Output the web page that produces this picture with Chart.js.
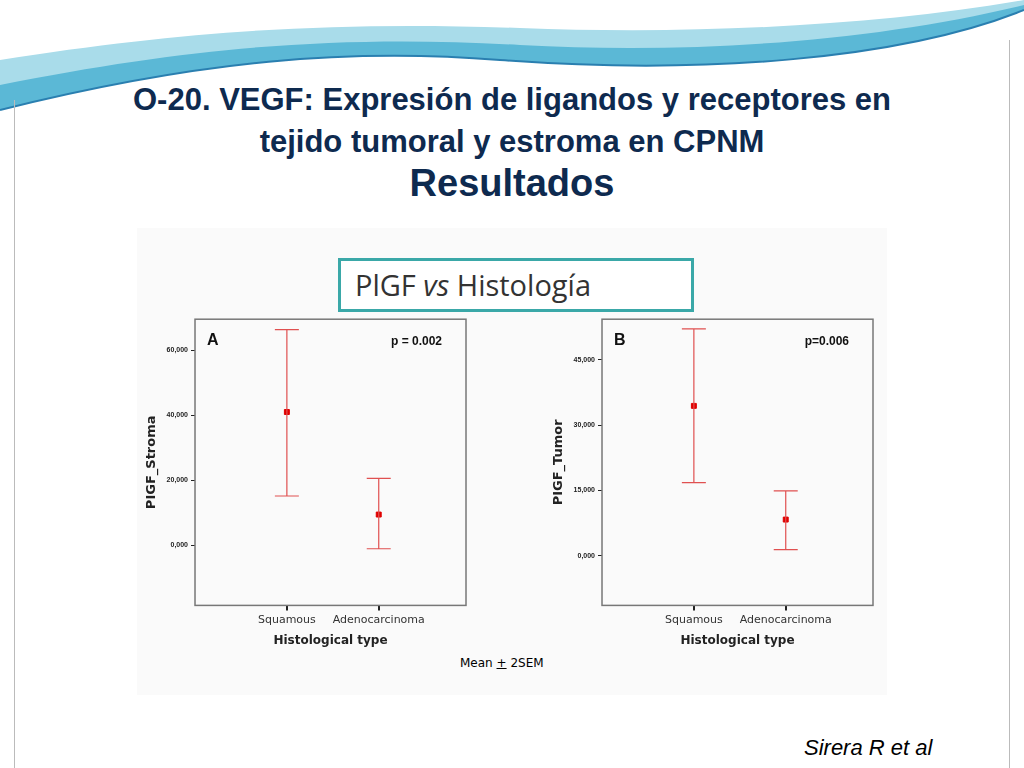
<!DOCTYPE html>
<html><head><meta charset="utf-8">
<script src="https://cdn.jsdelivr.net/npm/chart.js@4.4.0/dist/chart.umd.min.js"></script>
<style>
body{margin:0;width:1024px;height:768px;background:#fff;position:relative;overflow:hidden;font-family:"Liberation Sans",Arial,sans-serif}
#wave{position:absolute;left:0;top:0}
.t{position:absolute;left:0;width:1024px;text-align:center;color:#0e2a4f;font-weight:bold;white-space:nowrap}
#inner{position:absolute;left:137px;top:228px;width:750px;height:467px;background:#fafafa}
#box{position:absolute;left:338px;top:258px;width:336px;height:48px;border:3px solid #3aa8a8;background:#fff;font-family:"Open Sans",sans-serif;font-size:29px;color:#333;line-height:48px;padding-left:14px;box-sizing:content-box}
.c{position:absolute}
#mean{position:absolute;left:460px;top:656px;font-size:12px;font-family:"DejaVu Sans",sans-serif}
#auth{position:absolute;left:804px;top:735px;font-size:22px;font-style:italic}
</style></head><body>
<svg id="wave" width="1024" height="120">
<path d="M0,0 H1024 V10 C900,60 700,75 500,60 C350,48 200,60 0,110 Z" fill="#5bb8d6"/>
<path d="M0,0 H1024 V5 C880,40 700,55 520,45 C350,35 200,45 0,85 Z" fill="#a9dcea"/>
<path d="M0,0 H1024 V0 C880,25 700,35 520,28 C350,22 200,28 0,60 Z" fill="#ffffff"/>
<path d="M0,110 C200,60 350,48 500,60 C700,75 900,60 1024,10" fill="none" stroke="#2a7fb0" stroke-width="2"/>
</svg>
<div style="position:absolute;left:14px;top:100px;width:1px;height:668px;background:#bbb"></div>
<div style="position:absolute;left:1009px;top:40px;width:1px;height:728px;background:#bbb"></div>
<div class="t" style="top:82px;font-size:31px">O-20. VEGF: Expresión de ligandos y receptores en</div>
<div class="t" style="top:124px;font-size:31px">tejido tumoral y estroma en CPNM</div>
<div class="t" style="top:162px;font-size:38px">Resultados</div>
<div id="inner"></div>
<div id="box">PlGF <i>vs</i> Histología</div>
<div class="c" style="left:140px;top:312px;width:340px;height:340px"><canvas id="ca"></canvas></div>
<div class="c" style="left:547px;top:312px;width:340px;height:340px"><canvas id="cb"></canvas></div>
<div id="mean">Mean <u>+</u> 2SEM</div>
<div id="auth">Sirera R et al</div>
<script>
const categories = ['Squamous', 'Adenocarcinoma'];
const stromaMean = [41000, 9500];
const stromaLow = [15200, -1000];
const stromaHigh = [66300, 20600];
const stromaTicks = [0, 20000, 40000, 60000];
const tumorMean = [34400, 8300];
const tumorLow = [16800, 1400];
const tumorHigh = [52100, 14900];
const tumorTicks = [0, 15000, 30000, 45000];

const errPlugin = {
  id: 'err',
  afterDatasetsDraw(chart, args, o) {
    const c = chart.ctx, x = chart.scales.x, y = chart.scales.y;
    c.save(); c.strokeStyle = '#e05050'; c.lineWidth = 1.2;
    o.low.forEach((lo, i) => {
      const px = x.getPixelForValue(i + 1), y1 = y.getPixelForValue(lo), y2 = y.getPixelForValue(o.high[i]);
      c.beginPath(); c.moveTo(px, y1); c.lineTo(px, y2);
      c.moveTo(px - 12, y1); c.lineTo(px + 12, y1);
      c.moveTo(px - 12, y2); c.lineTo(px + 12, y2); c.stroke();
    });
    const a = chart.chartArea;
    c.strokeStyle = '#777'; c.lineWidth = 1.5; c.strokeRect(a.left, a.top, a.right - a.left, a.bottom - a.top);
    c.fillStyle = '#111'; c.font = 'bold 16px "Liberation Sans"'; c.fillText(o.letter, a.left + 12, a.top + 26);
    c.font = 'bold 12px "Liberation Sans"'; c.textAlign = 'right'; c.fillText(o.p, a.right - 24, a.top + 26);
    c.restore();
  }
};

function make(id, mean, low, high, ticks, ymin, ymax, title, letter, p) {
  new Chart(document.getElementById(id), {
    type: 'scatter',
    data: { datasets: [{ data: mean.map((v, i) => ({ x: i + 1, y: v })), pointStyle: 'rect', pointRadius: 3.5, backgroundColor: '#e00000', borderColor: '#e00000' }] },
    options: {
      responsive: true, maintainAspectRatio: false, animation: false,
      layout: { padding: { top: 6, right: 14 } },
      plugins: { legend: { display: false }, tooltip: { enabled: false }, err: { low, high, letter, p } },
      scales: {
        x: { type: 'linear', min: 0, max: 2.95, afterBuildTicks: s => { s.ticks = [{ value: 1 }, { value: 2 }]; },
          grid: { drawOnChartArea: false, tickLength: 5, color: '#222', lineWidth: 2 }, border: { display: false },
          ticks: { callback: v => categories[v - 1], color: '#333', font: { size: 11, family: 'DejaVu Sans' }, maxRotation: 0 },
          title: { display: true, text: 'Histological type', color: '#222', font: { size: 12, weight: 'bold', family: 'DejaVu Sans' } } },
        y: { min: ymin, max: ymax, afterBuildTicks: s => { s.ticks = ticks.map(v => ({ value: v })); },
          grid: { drawOnChartArea: false, tickLength: 4, color: '#222' }, border: { display: false },
          ticks: { callback: v => (v / 1000).toFixed(0) + ',000', color: '#222', font: { size: 7, weight: 'bold' } },
          title: { display: true, text: title, color: '#222', font: { size: 13, weight: 'bold', family: 'DejaVu Sans' } } }
      }
    },
    plugins: [errPlugin]
  });
}
make('ca', stromaMean, stromaLow, stromaHigh, stromaTicks, -18400, 69500, 'PIGF_Stroma', 'A', 'p = 0.002');
make('cb', tumorMean, tumorLow, tumorHigh, tumorTicks, -11400, 54300, 'PIGF_Tumor', 'B', 'p=0.006');
</script>
</body></html>
